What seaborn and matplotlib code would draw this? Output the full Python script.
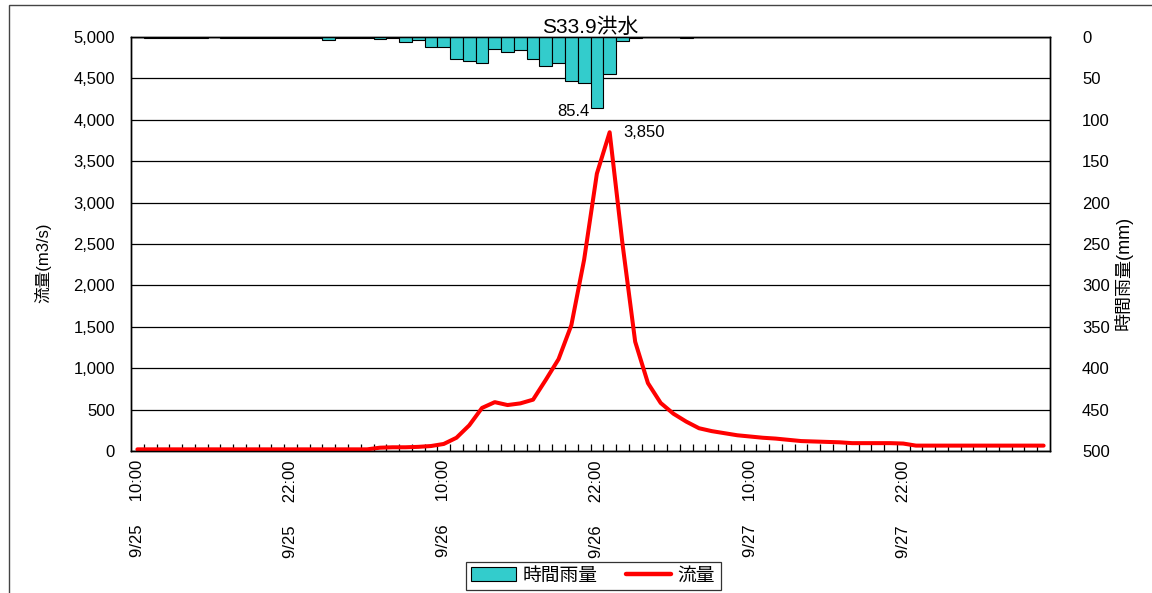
import numpy as np
import pandas as pd
import matplotlib
matplotlib.use("Agg")
import matplotlib.pyplot as plt
import seaborn as sns
from matplotlib.patches import Patch, Rectangle
from matplotlib.lines import Line2D
from matplotlib.ticker import FixedLocator, FuncFormatter

# hourly data from 9/25 10:00 (index 0) to 9/28 9:00 (index 71)
rain = [0, 1, 1, 1, 1, 1, 0, 1, 1, 1, 1, 1, 1, 1, 1, 3.5,
        1, 1, 1, 3, 1, 6, 3.5, 12, 12, 26, 29, 31, 14, 18, 16, 26,
        35, 31, 53, 56, 85.4, 45, 5, 1, 0, 0, 0, 1, 0, 0, 0, 0,
        0, 0, 0, 0, 0, 0, 0, 0, 0, 0, 0, 0, 0, 0, 0, 0,
        0, 0, 0, 0, 0, 0, 0, 0]
flow = [20, 20, 20, 20, 20, 20, 20, 20, 20, 20, 20, 20, 20, 20, 20, 20,
        20, 20, 20, 40, 45, 45, 50, 60, 85, 160, 310, 520, 590, 555, 575, 620,
        860, 1110, 1520, 2310, 3350, 3850, 2510, 1320, 820, 580, 450, 355, 275, 240, 215, 190,
        175, 160, 150, 135, 120, 115, 110, 105, 95, 95, 95, 95, 90, 65, 65, 65,
        65, 65, 65, 65, 65, 65, 65, 65]
tick_pos = [0, 12, 24, 36, 48, 60]
tick_labels = ["9/25     10:00", "9/25     22:00", "9/26     10:00",
               "9/26     22:00", "9/27     10:00", "9/27     22:00"]

df = pd.DataFrame({"hour": np.arange(len(rain)), "rain": rain, "flow": flow})

sns.set_style("white")
plt.rcParams["font.family"] = ["Liberation Sans", "Noto Sans CJK JP", "DejaVu Sans"]
plt.rcParams["font.size"] = 12
for k in ("text.color", "axes.labelcolor", "xtick.color", "ytick.color"):
    plt.rcParams[k] = "black"

fig = plt.figure(figsize=(11.52, 5.93), dpi=100)
ax = fig.add_axes([131 / 1152, 1 - 451 / 593, (1050 - 131) / 1152, (451 - 37) / 593])
ax2 = ax.twinx()

# flow line (left axis)
sns.lineplot(data=df, x="hour", y="flow", ax=ax, color="red", linewidth=2.9, zorder=3)
ax.set_ylim(0, 5000)
ax.set_yticks(np.arange(0, 5001, 500))
ax.yaxis.set_major_formatter(FuncFormatter(lambda v, p: f"{int(v):,}"))
ax.grid(axis="y", color="black", linewidth=0.9)
ax.grid(axis="x", visible=False)

# rainfall bars (right axis, inverted)
sns.barplot(data=df, x="hour", y="rain", ax=ax2, color="#33CCCC", width=1.0,
            edgecolor="black", linewidth=0.8, saturation=1, native_scale=True)
ax2.set_ylim(500, 0)
ax2.set_yticks(np.arange(0, 501, 50))

ax.set_xlim(-0.5, len(rain) - 0.5)
ax.set_xticks(tick_pos)
ax.set_xticklabels(tick_labels, rotation=90)
ax.xaxis.set_minor_locator(FixedLocator(np.arange(0.5, len(rain) - 0.5, 1)))
ax.tick_params(axis="x", which="major", length=0, pad=6.5, labelsize=12)
ax.tick_params(axis="x", which="minor", direction="in", length=5, width=0.9,
               color="black", bottom=True)
ax.tick_params(axis="y", length=0, pad=11.5, labelsize=12)
ax2.tick_params(axis="y", length=0, pad=23, labelsize=12)

for a in (ax, ax2):
    for s in a.spines.values():
        s.set_visible(True)
        s.set_color("black")
        s.set_linewidth(1.0)

ax.set_xlabel("")
ax.set_ylabel("流量(m3/s)", fontsize=12, labelpad=16)
ax.yaxis.label.set_y(0.455)
ax2.set_ylabel("時間雨量(mm)", fontsize=13, labelpad=3)
ax2.yaxis.label.set_y(0.43)
ax.set_title("S33.9洪水", fontsize=15, pad=0)

# annotations
ax2.annotate("85.4", xy=(36, 85.4), xytext=(-17, -3), textcoords="offset points",
             ha="center", va="center", fontsize=12)
ax.annotate("3,850", xy=(37, 3850), xytext=(10, 0), textcoords="offset points",
            ha="left", va="center", fontsize=12)

handles = [Patch(facecolor="#33CCCC", edgecolor="black", linewidth=0.8),
           Line2D([0], [0], color="red", linewidth=3.2)]
leg = fig.legend(handles, ["時間雨量", "流量"], loc="center", ncol=2,
                 bbox_to_anchor=(593 / 1152, 1 - 576 / 593), frameon=True,
                 fancybox=False, edgecolor="black", fontsize=13.5,
                 handlelength=2.4, columnspacing=1.5, borderpad=0.3,
                 handletextpad=0.35, borderaxespad=0)
leg.get_frame().set_linewidth(0.9)

fig.patches.append(Rectangle((9 / 1152, -0.01), 1.0, 1 - 5 / 593 + 0.01,
                             transform=fig.transFigure, fill=False,
                             edgecolor="#444444", linewidth=1.0))

fig.savefig("out.png", dpi=100)
